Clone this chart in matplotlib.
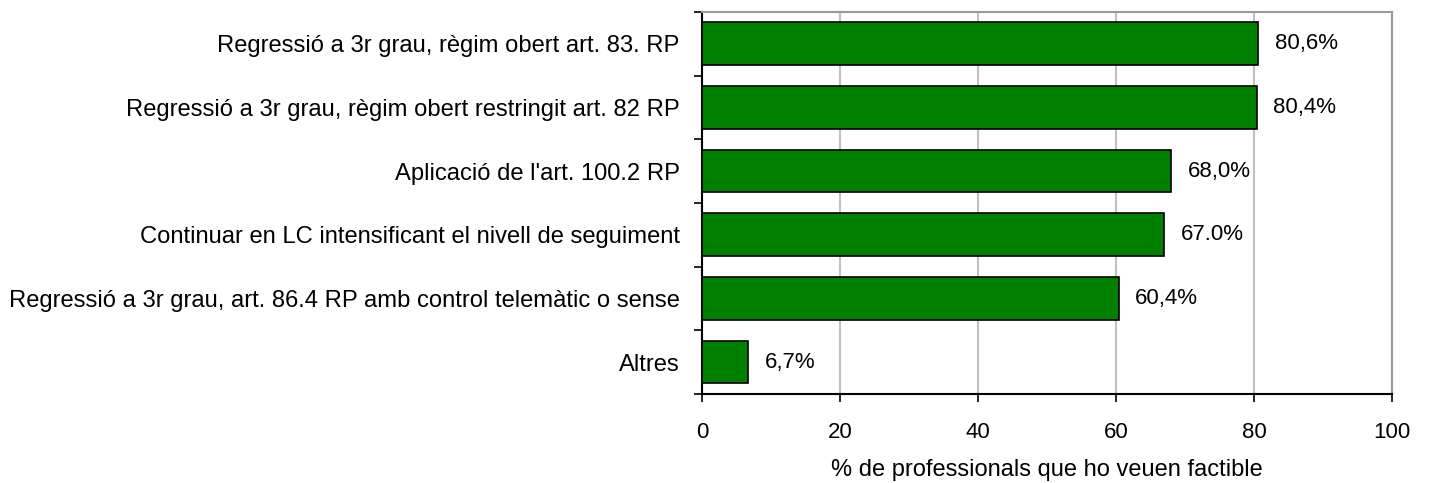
import matplotlib.pyplot as plt
from matplotlib.ticker import FixedLocator

plt.rcParams["font.family"] = ["Liberation Sans", "DejaVu Sans"]

categories = [
    "Regressió a 3r grau, règim obert art. 83. RP",
    "Regressió a 3r grau, règim obert restringit art. 82 RP",
    "Aplicació de l'art. 100.2 RP",
    "Continuar en LC intensificant el nivell de seguiment",
    "Regressió a 3r grau, art. 86.4 RP amb control telemàtic o sense",
    "Altres",
]
values = [80.6, 80.4, 68.0, 67.0, 60.4, 6.7]
value_labels = ["80,6%", "80,4%", "68,0%", "67.0%", "60,4%", "6,7%"]
x_ticks = [0, 20, 40, 60, 80, 100]

fig = plt.figure(figsize=(14.32, 4.83), dpi=100)
ax = fig.add_axes([0.4902, 0.1843, 0.4819, 0.7909])

pos = list(range(len(categories)))
ax.barh(pos, values, height=0.67, color="#008000", edgecolor="black", linewidth=1.2, zorder=3)
for y, v, lab in zip(pos, values, value_labels):
    ax.text(v + 2.4, y, lab, va="center", ha="left", fontsize=16, zorder=4)

ax.set_xlim(0, 100)
ax.set_ylim(len(categories) - 0.5, -0.5)
ax.set_xticks(x_ticks)
ax.set_xticklabels([str(t) for t in x_ticks], fontsize=16)
ax.set_yticks(pos)
ax.set_yticklabels(categories, fontsize=17.1)
ax.tick_params(axis="y", which="major", length=0, pad=16)
ax.yaxis.set_minor_locator(FixedLocator([i - 0.5 for i in range(len(categories) + 1)]))
ax.tick_params(axis="y", which="minor", length=6, width=1.2, color="black")
ax.tick_params(axis="x", length=6, width=1.2, pad=14)
ax.set_xlabel("% de professionals que ho veuen factible", fontsize=17, labelpad=12)

ax.grid(axis="x", color="#c0c0c0", linewidth=1.5, zorder=0)
for side in ("top", "right"):
    ax.spines[side].set_color("#999999")
    ax.spines[side].set_linewidth(1.5)
for side in ("left", "bottom"):
    ax.spines[side].set_color("black")
    ax.spines[side].set_linewidth(1.5)

fig.savefig("out.png", dpi=100)
